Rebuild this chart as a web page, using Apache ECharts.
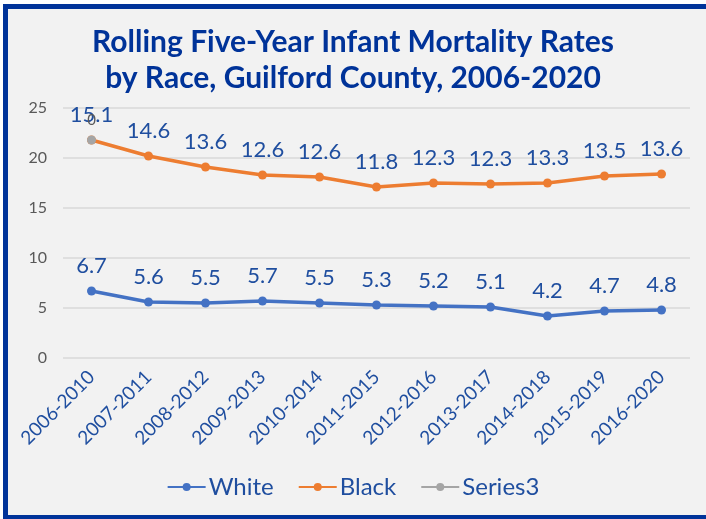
<!DOCTYPE html>
<html>
<head>
<meta charset="utf-8">
<script src="https://cdn.jsdelivr.net/npm/echarts@6/dist/echarts.min.js"></script>
<style>
	html, body { margin: 0; padding: 0; background: #fff; }
	#chart { width: 706px; height: 519px; }
</style>
</head>
<body>
<div id="chart"></div>
<script>
// rolling five-year windows
const periods = ['2006-2010', '2007-2011', '2008-2012', '2009-2013', '2010-2014', '2011-2015',
	'2012-2016', '2013-2017', '2014-2018', '2015-2019', '2016-2020']
// rates per 1,000 live births (the chart stacks Black on top of White)
const white = [6.7, 5.6, 5.5, 5.7, 5.5, 5.3, 5.2, 5.1, 4.2, 4.7, 4.8]
const black = [15.1, 14.6, 13.6, 12.6, 12.6, 11.8, 12.3, 12.3, 13.3, 13.5, 13.6]
const series3 = [0]
const yTicks = { min: 0, max: 25, interval: 5 }

const labelBlue = '#1f4e9f'
const frameBlue = '#003399'
const font = 'Lato, "Noto Sans", sans-serif'

const lineSeries = (name, values, color) => ({
	name: name,
	type: 'line',
	stack: 'total',
	data: values,
	symbol: 'circle',
	symbolSize: 9,
	lineStyle: { color: color, width: 3.5 },
	itemStyle: { color: color },
	label: {
		show: true,
		position: 'top',
		distance: 10,
		color: labelBlue,
		fontFamily: font,
		fontSize: 22
	}
})

const chart = echarts.init(document.getElementById('chart'))
chart.setOption({
	animation: false,
	backgroundColor: '#f2f2f2',
	title: {
		text: 'Rolling Five-Year Infant Mortality Rates\nby Race, Guilford County, 2006-2020',
		left: 'center',
		top: 19,
		textStyle: {
			color: frameBlue,
			fontFamily: font,
			fontWeight: 'bold',
			fontSize: 30,
			lineHeight: 36
		}
	},
	legend: {
		bottom: 15,
		left: 'center',
		itemWidth: 38,
		itemHeight: 10,
		itemGap: 24,
		textStyle: { color: labelBlue, fontFamily: font, fontSize: 24, padding: [0, 0, 0, -2] },
		data: ['White', 'Black', 'Series3']
	},
	grid: { left: 63, right: 16, top: 108, bottom: 161, containLabel: false },
	xAxis: {
		type: 'category',
		data: periods,
		axisLine: { show: false },
		axisTick: { show: false },
		axisLabel: {
			rotate: 45,
			margin: 16,
			color: labelBlue,
			fontFamily: font,
			fontSize: 19
		}
	},
	yAxis: {
		type: 'value',
		min: yTicks.min,
		max: yTicks.max,
		interval: yTicks.interval,
		axisLine: { show: false },
		axisTick: { show: false },
		axisLabel: { color: '#595959', fontFamily: font, fontSize: 16, margin: 16 },
		splitLine: { lineStyle: { color: '#d9d9d9', width: 1.5 } }
	},
	series: [
		lineSeries('White', white, '#4472c4'),
		lineSeries('Black', black, '#ed7d31'),
		Object.assign(lineSeries('Series3', series3, '#a5a5a5'), {
			label: {
				show: true,
				position: 'top',
				distance: 8,
				color: '#595959',
				fontFamily: font,
				fontSize: 15
			}
		})
	],
	graphic: [
		// dark blue frame round the chart
		{ type: 'rect', shape: { x: 3, y: 4, width: 703, height: 5 }, style: { fill: frameBlue } },
		{ type: 'rect', shape: { x: 3, y: 4, width: 5, height: 515 }, style: { fill: frameBlue } },
		{ type: 'rect', shape: { x: 3, y: 515, width: 703, height: 4 }, style: { fill: frameBlue } },
		{ type: 'rect', shape: { x: 0, y: 0, width: 706, height: 4 }, style: { fill: '#fff' } },
		{ type: 'rect', shape: { x: 0, y: 0, width: 3, height: 519 }, style: { fill: '#fff' } }
	]
})
</script>
</body>
</html>
